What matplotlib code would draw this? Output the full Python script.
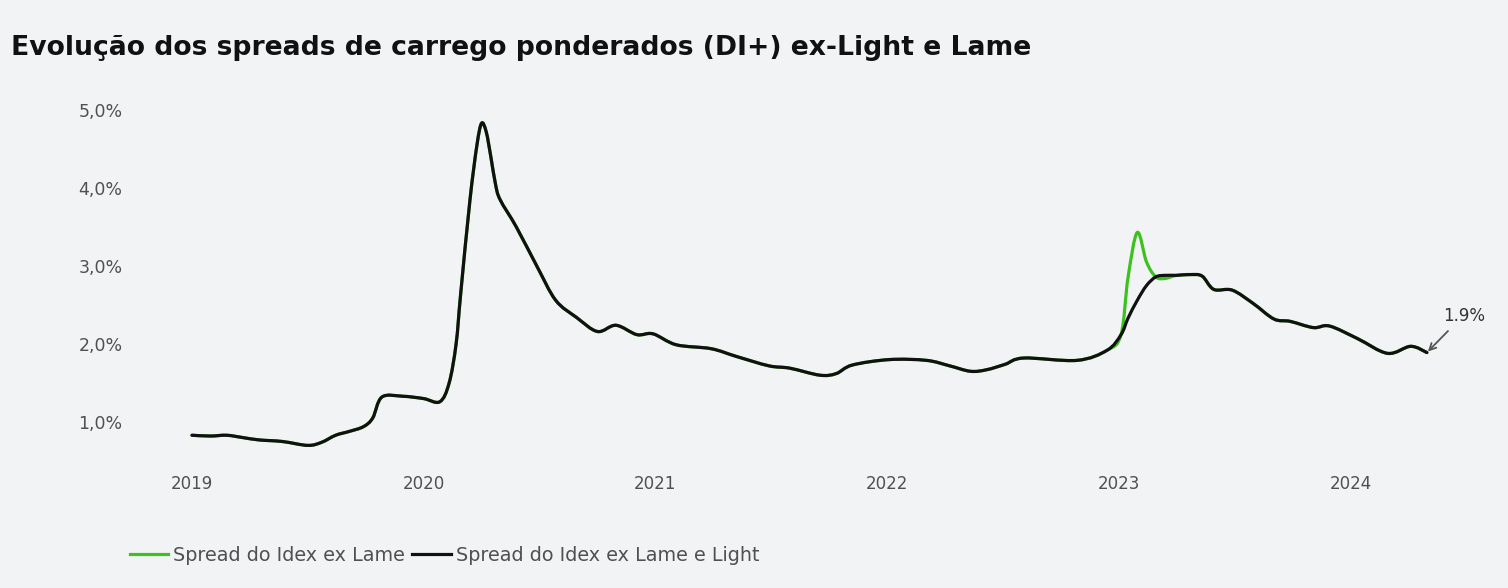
import matplotlib
matplotlib.use("Agg")
import matplotlib.pyplot as plt
from matplotlib.path import Path
from matplotlib.patches import PathPatch
from matplotlib.lines import Line2D

# dates as decimal years, spread in %
anos = [2019.00, 2019.08, 2019.15, 2019.22, 2019.29, 2019.39, 2019.50, 2019.56,
        2019.62, 2019.68, 2019.74, 2019.78, 2019.82, 2019.91, 2020.00, 2020.07,
        2020.11, 2020.14, 2020.16, 2020.20, 2020.23, 2020.25, 2020.27, 2020.29,
        2020.31, 2020.33, 2020.40, 2020.49, 2020.57, 2020.66, 2020.75, 2020.83,
        2020.92, 2020.99, 2021.09, 2021.24, 2021.35, 2021.49, 2021.58, 2021.71,
        2021.78, 2021.85, 2022.01, 2022.17, 2022.27, 2022.36, 2022.43, 2022.51,
        2022.59, 2022.82, 2022.95, 2023.01, 2023.04, 2023.08, 2023.12, 2023.16,
        2023.20, 2023.25, 2023.31, 2023.36, 2023.41, 2023.49, 2023.58, 2023.67,
        2023.74, 2023.84, 2023.91, 2024.03, 2024.16, 2024.26, 2024.33]

ex_lame_light = [0.83, 0.82, 0.83, 0.80, 0.77, 0.75, 0.70, 0.74,
                 0.83, 0.88, 0.94, 1.05, 1.32, 1.33, 1.30, 1.26,
                 1.50, 2.00, 2.65, 3.85, 4.55, 4.83, 4.72, 4.40,
                 4.05, 3.85, 3.50, 2.99, 2.56, 2.34, 2.16, 2.24,
                 2.12, 2.13, 1.99, 1.94, 1.84, 1.72, 1.69, 1.60,
                 1.62, 1.73, 1.80, 1.79, 1.72, 1.65, 1.67, 1.74,
                 1.82, 1.79, 1.92, 2.12, 2.33, 2.56, 2.75, 2.86,
                 2.88, 2.88, 2.89, 2.87, 2.70, 2.69, 2.52, 2.32,
                 2.29, 2.21, 2.23, 2.07, 1.88, 1.97, 1.89]

# same series, differs only around the Feb/2023 spike
ex_lame = list(ex_lame_light)
for i, a in enumerate(anos):
    if a == 2023.04:
        ex_lame[i] = 2.85
    elif a == 2023.08:
        ex_lame[i] = 3.43
    elif a == 2023.12:
        ex_lame[i] = 3.05
    elif a == 2023.20:
        ex_lame[i] = 2.84

yticks = [1, 2, 3, 4, 5]
ytick_labels = ["1,0%", "2,0%", "3,0%", "4,0%", "5,0%"]
xticks = [2019, 2020, 2021, 2022, 2023, 2024]

bg = "#f2f3f5"
txt = "#505050"
verde = "#3cc21e"
preto = "#111111"


def curva(xs, ys):
    # smooth line through the points (catmull-rom as bezier segments)
    pts = list(zip(xs, ys))
    n = len(pts)
    verts = [pts[0]]
    codes = [Path.MOVETO]
    for i in range(n - 1):
        p0 = pts[i - 1] if i > 0 else pts[i]
        p1 = pts[i]
        p2 = pts[i + 1]
        p3 = pts[i + 2] if i + 2 < n else pts[i + 1]
        c1 = (p1[0] + (p2[0] - p0[0]) / 6, p1[1] + (p2[1] - p0[1]) / 6)
        c2 = (p2[0] - (p3[0] - p1[0]) / 6, p2[1] - (p3[1] - p1[1]) / 6)
        verts += [c1, c2, p2]
        codes += [Path.CURVE4] * 3
    return Path(verts, codes)


fig = plt.figure(figsize=(15.08, 5.88), dpi=100, facecolor=bg)
ax = fig.add_axes([0.0812, 0.216, 0.9065, 0.6235])
ax.set_facecolor(bg)

ax.add_patch(PathPatch(curva(anos, ex_lame), fill=False, edgecolor=verde, lw=2.3,
                       capstyle="round", joinstyle="round"))
ax.add_patch(PathPatch(curva(anos, ex_lame_light), fill=False, edgecolor=preto, lw=2.3,
                       capstyle="round", joinstyle="round"))

ax.set_xlim(2018.7, 2024.6)
ax.set_ylim(0.5, 5.2)
ax.set_yticks(yticks)
ax.set_yticklabels(ytick_labels)
ax.set_xticks(xticks)
ax.set_xticklabels([str(x) for x in xticks])
ax.tick_params(length=0, labelsize=12.5, labelcolor=txt)
ax.tick_params(axis="x", pad=10, labelsize=12)
ax.tick_params(axis="y", pad=0)
for s in ax.spines.values():
    s.set_visible(False)

ax.annotate("1.9%", xy=(anos[-1], ex_lame_light[-1]), xytext=(2024.40, 2.24),
            fontsize=12, color="#333333", ha="left", va="bottom",
            arrowprops=dict(arrowstyle="->", color="#555555", lw=1.3,
                            shrinkA=3, shrinkB=1, relpos=(0.25, 0)))

fig.text(0.007, 0.906, "Evolução dos spreads de carrego ponderados (DI+) ex-Light e Lame",
         fontsize=19.2, fontweight="bold", color="#111111", va="baseline")

handles = [Line2D([], [], color=verde, lw=2.3), Line2D([], [], color=preto, lw=2.3)]
fig.legend(handles, ["Spread do Idex ex Lame", "Spread do Idex ex Lame e Light"],
           loc="lower left", bbox_to_anchor=(0.0745, 0.01), ncol=2, frameon=False,
           fontsize=13.8, labelcolor=txt, handlelength=2.0, handletextpad=0.26,
           columnspacing=0.4)

fig.savefig("out.png", dpi=100, facecolor=bg)
